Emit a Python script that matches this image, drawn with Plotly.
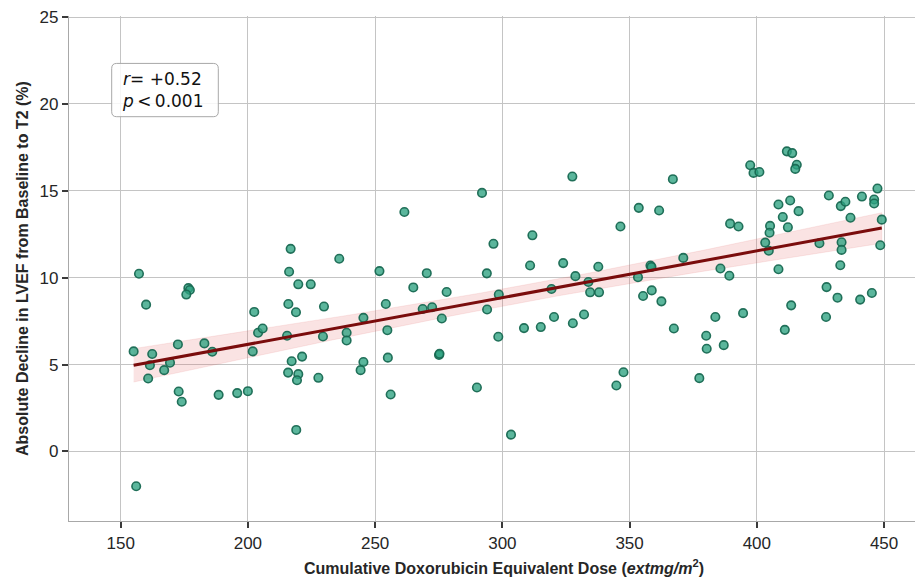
import numpy as np
import plotly.graph_objects as go

# Cumulative doxorubicin equivalent dose (mg/m2)
dose = [
    216.8, 235.9, 157.2, 216.2, 219.8, 224.7, 176.6, 177.2, 175.8, 160.0,
    202.5, 215.9, 218.9, 229.9, 155.1, 162.4, 172.5, 182.9, 186.0, 161.5,
    167.1, 169.4, 160.8, 172.8, 174.0, 188.5, 195.8, 200.0, 156.1, 201.9,
    204.0, 205.8, 215.4, 229.5, 238.8, 238.8, 217.2, 221.3, 215.8, 219.8,
    219.3, 227.7, 219.0, 292.0, 261.5, 296.5, 311.8, 251.7, 270.3, 293.9,
    310.9, 265.0, 278.1, 254.2, 245.4, 268.7, 272.4, 276.2, 294.0, 298.6,
    319.3, 254.8, 298.4, 308.5, 315.1, 245.4, 244.3, 255.0, 275.1, 275.3,
    290.0, 256.1, 303.4, 327.5, 367.0, 397.4, 398.7, 401.0, 411.8, 413.9,
    415.7, 415.1, 353.6, 361.6, 346.4, 389.5, 392.8, 408.5, 413.1, 410.2,
    416.4, 412.2, 405.2, 405.0, 428.3, 433.0, 434.8, 441.3, 447.4, 446.1,
    446.1, 436.8, 449.1, 403.3, 404.7, 424.6, 433.3, 433.3, 432.8, 448.5,
    371.1, 385.7, 389.2, 408.5, 358.2, 358.6, 353.3, 323.9, 328.7, 337.7,
    333.8, 334.5, 338.0, 355.3, 358.7, 362.5, 427.4, 431.7, 440.6, 445.2,
    413.5, 320.3, 327.7, 332.1, 383.7, 394.6, 427.2, 367.4, 380.1, 380.3,
    387.0, 411.0, 347.6, 344.8, 377.4,
]
# Absolute decline in LVEF from baseline to T2 (%)
decline = [
    11.66, 11.09, 10.23, 10.34, 9.62, 9.62, 9.40, 9.29, 9.03, 8.45,
    8.03, 8.49, 8.01, 8.34, 5.76, 5.61, 6.16, 6.22, 5.74, 4.96,
    4.68, 5.11, 4.20, 3.45, 2.86, 3.26, 3.36, 3.47, -2.00, 5.76,
    6.83, 7.08, 6.66, 6.62, 6.83, 6.39, 5.19, 5.46, 4.54, 4.45,
    4.10, 4.24, 1.24, 14.88, 13.78, 11.95, 12.44, 10.38, 10.26, 10.25,
    10.70, 9.44, 9.18, 8.49, 7.69, 8.20, 8.30, 7.65, 8.17, 9.03,
    9.35, 6.98, 6.60, 7.10, 7.16, 5.15, 4.68, 5.40, 5.55, 5.62,
    3.68, 3.28, 0.97, 15.82, 15.67, 16.47, 16.03, 16.08, 17.27, 17.17,
    16.50, 16.26, 14.02, 13.87, 12.95, 13.11, 12.95, 14.21, 14.44, 13.49,
    13.83, 12.90, 12.98, 12.59, 14.73, 14.12, 14.37, 14.67, 15.13, 14.50,
    14.27, 13.45, 13.34, 12.02, 11.55, 11.98, 12.04, 11.60, 10.72, 11.87,
    11.14, 10.53, 10.11, 10.49, 10.70, 10.62, 10.03, 10.84, 10.09, 10.63,
    9.75, 9.16, 9.16, 8.95, 9.27, 8.64, 9.46, 8.85, 8.74, 9.12,
    8.41, 7.74, 7.38, 7.88, 7.74, 7.96, 7.74, 7.08, 6.66, 5.91,
    6.12, 7.00, 4.56, 3.80, 4.22,
]
x_ticks = [150, 200, 250, 300, 350, 400, 450]
y_ticks = [0, 5, 10, 15, 20, 25]
stats_text = "<i>r</i>= +0.52<br><i>p</i>\u2009&lt;\u20090.001"

x = np.array(dose)
y = np.array(decline)
n = len(x)
b1, b0 = np.polyfit(x, y, 1)
xs = np.linspace(x.min(), x.max(), 100)
ys = b0 + b1 * xs
resid = y - (b0 + b1 * x)
s = np.sqrt(np.sum(resid ** 2) / (n - 2))
sxx = np.sum((x - x.mean()) ** 2)
se = s * np.sqrt(1.0 / n + (xs - x.mean()) ** 2 / sxx)
t = 1.976
lo = ys - t * se
hi = ys + t * se

fig = go.Figure()
fig.add_trace(go.Scatter(
    x=np.concatenate([xs, xs[::-1]]), y=np.concatenate([hi, lo[::-1]]),
    fill="toself", fillcolor="rgba(225,90,90,0.17)",
    line=dict(color="rgba(225,90,90,0.12)", width=1),
    hoverinfo="skip", showlegend=False,
))
fig.add_trace(go.Scatter(
    x=x, y=y, mode="markers",
    marker=dict(size=8.5, color="rgba(45,162,128,0.78)",
                line=dict(color="rgba(24,105,82,0.95)", width=1.6)),
    showlegend=False,
))
fig.add_trace(go.Scatter(
    x=xs, y=ys, mode="lines",
    line=dict(color="#7a0c0c", width=3),
    showlegend=False,
))

axis_common = dict(
    showgrid=True, gridcolor="#c4c4c4", gridwidth=1,
    zeroline=False, showline=True, linecolor="#a8a8a8", linewidth=1.2,
    ticks="outside", ticklen=6, tickwidth=1.5, tickcolor="#3a3a3a",
    ticklabeloverflow="allow",
    tickfont=dict(family="Liberation Sans, Arial", size=17, color="#262626"),
)
fig.update_xaxes(range=[129.7, 465.3], tickvals=x_ticks, **axis_common)
fig.update_yaxes(range=[-4, 25.06], tickvals=y_ticks, **axis_common)

# Layout geometry (page pixels; the page body has an 8px margin)
W, H = 915, 570
ML, MR, MT, MB = 61, 0, 5, 57
PW = W - ML - MR
PH = H - MT - MB
off = 8


def px_to_paper(px, py):
    return (px - off - ML) / PW, 1 - (py - off - MT) / PH


# rounded stats box
bx0, by0, bx1, by1, rad = 111.7, 60.7, 218.3, 114.3, 5.0
(X0, Y0), (X1, Y1) = px_to_paper(bx0, by0), px_to_paper(bx1, by1)
rx, ry = rad / PW, rad / PH
path = (f"M {X0 + rx},{Y0} L {X1 - rx},{Y0} Q {X1},{Y0} {X1},{Y0 - ry} "
        f"L {X1},{Y1 + ry} Q {X1},{Y1} {X1 - rx},{Y1} L {X0 + rx},{Y1} "
        f"Q {X0},{Y1} {X0},{Y1 + ry} L {X0},{Y0 - ry} Q {X0},{Y0} {X0 + rx},{Y0} Z")
fig.add_shape(type="path", path=path, xref="paper", yref="paper",
              fillcolor="rgba(255,255,255,0.85)", line=dict(color="#a8a8a8", width=1),
              layer="above")
tx, ty = px_to_paper(119.5, 87.5)
fig.add_annotation(
    xref="paper", yref="paper", x=tx, y=ty, xanchor="left", yanchor="middle",
    text=stats_text, showarrow=False, align="left",
    font=dict(family="DejaVu Sans", size=17, color="#111111"),
)
lx, ly = px_to_paper(504, 567)
fig.add_annotation(
    xref="paper", yref="paper", x=lx, y=ly, xanchor="center", yanchor="middle",
    text="<b>Cumulative Doxorubicin Equivalent Dose (<i>extmg/m</i><sup>2</sup>)</b>",
    showarrow=False, font=dict(family="Liberation Sans, Arial", size=16, color="#262626"),
)
yx, yy = px_to_paper(23, 267.5)
fig.add_annotation(
    xref="paper", yref="paper", x=yx, y=yy, xanchor="center", yanchor="middle",
    text="<b>Absolute Decline in LVEF from Baseline to T2 (%)</b>", textangle=-90,
    showarrow=False, font=dict(family="Liberation Sans, Arial", size=16, color="#262626"),
)

fig.update_layout(
    width=W, height=H,
    margin=dict(l=ML, r=MR, t=MT, b=MB),
    paper_bgcolor="white", plot_bgcolor="white",
)
fig.write_html("out.html")
